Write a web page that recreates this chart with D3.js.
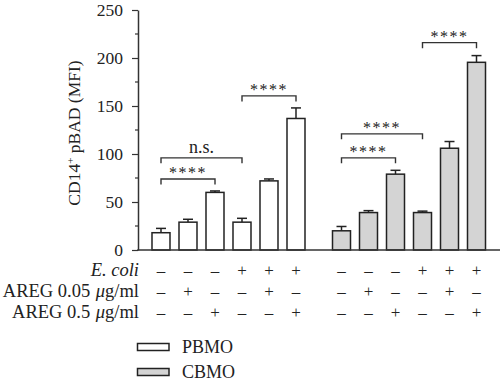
<!DOCTYPE html>
<html>
<head>
<meta charset="utf-8">
<script src="https://cdn.jsdelivr.net/npm/d3@7"></script>
<style>
  html, body { margin: 0; padding: 0; background: #fff; }
  svg { display: block; }
  text { font-family: "Liberation Serif", "Times New Roman", serif; fill: #222; }
</style>
</head>
<body>
<svg id="chart" width="500" height="384"></svg>
<script>
// ---- data ----
const groups = ["PBMO", "CBMO"];
const conditions = ["c1", "c2", "c3", "c4", "c5", "c6"];
const pbmoValues = [18, 29, 60, 29, 72, 137];
const pbmoErrors = [4.5, 3, 1.5, 4, 2, 11];
const cbmoValues = [20, 39, 79, 39, 106, 195.5];
const cbmoErrors = [4.5, 2, 4, 1.5, 7, 7];
const yTicks = [0, 50, 100, 150, 200, 250];
// row labels as pieces: [text, italic]
const rowLabelParts = [
  [["E. coli", true]],
  [["AREG 0.05\u00a0", false], ["μ", true], ["g/ml", false]],
  [["AREG 0.5\u00a0", false], ["μ", true], ["g/ml", false]]
];
const ecoliSigns = ["–", "–", "–", "+", "+", "+"];
const areg005Signs = ["–", "+", "–", "–", "+", "–"];
const areg05Signs = ["–", "–", "+", "–", "–", "+"];
// brackets: group, from index, to index, y value, label
const brackets = [
  ["PBMO", 0, 2, 74, "****"],
  ["PBMO", 0, 3, 96, "n.s."],
  ["PBMO", 3, 5, 160.5, "****"],
  ["CBMO", 0, 2, 96, "****"],
  ["CBMO", 0, 3, 121, "****"],
  ["CBMO", 3, 5, 216, "****"]
];
const fills = { PBMO: "#ffffff", CBMO: "#d4d4d4" };

// ---- layout ----
const svg = d3.select("#chart");
const axisX = 138, y0 = 250, yTop = 10;

const y = d3.scaleLinear().domain([0, 250]).range([y0, yTop]);
const xGroup = d3.scaleBand().domain(groups).range([147.5, 490]).paddingInner(0.1025).paddingOuter(0);
const xCond = d3.scaleBand().domain(conditions).range([0, xGroup.bandwidth()]).paddingInner(1/3).paddingOuter(1/6);
const cx = (g, i) => xGroup(g) + xCond(conditions[i]) + xCond.bandwidth() / 2;

const seriesData = [];
groups.forEach(g => {
  const vals = g === "PBMO" ? pbmoValues : cbmoValues;
  const errs = g === "PBMO" ? pbmoErrors : cbmoErrors;
  vals.forEach((v, i) => seriesData.push({ g, i, v, e: errs[i] }));
});

// error bars (up only)
const eb = svg.append("g").attr("stroke", "#222").attr("stroke-width", 1.5);
seriesData.forEach(d => {
  const x = cx(d.g, d.i);
  eb.append("line").attr("x1", x).attr("x2", x).attr("y1", y(d.v)).attr("y2", y(d.v + d.e));
  eb.append("line").attr("x1", x - 5).attr("x2", x + 5).attr("y1", y(d.v + d.e)).attr("y2", y(d.v + d.e));
});

// bars
svg.append("g").selectAll("rect").data(seriesData).join("rect")
  .attr("x", d => xGroup(d.g) + xCond(conditions[d.i]))
  .attr("y", d => y(d.v))
  .attr("width", xCond.bandwidth())
  .attr("height", d => y(0) - y(d.v))
  .attr("fill", d => fills[d.g])
  .attr("stroke", "#222")
  .attr("stroke-width", 1.5);

// y axis
const yAxis = d3.axisLeft(y).tickValues(yTicks).tickSize(6).tickPadding(9).tickSizeOuter(0);
const ya = svg.append("g").attr("transform", `translate(${axisX},0)`).call(yAxis);
ya.select(".domain").attr("stroke", "#333").attr("stroke-width", 1.5);
ya.selectAll(".tick line").attr("stroke", "#333").attr("stroke-width", 1.2);
ya.selectAll(".tick text").attr("font-family", "Liberation Serif").attr("font-size", 17.5).attr("fill", "#222");
// minor ticks
const minor = d3.range(25, 250, 50);
ya.selectAll(".minor").data(minor).join("line")
  .attr("x1", -3).attr("x2", 0).attr("y1", d => y(d)).attr("y2", d => y(d))
  .attr("stroke", "#333").attr("stroke-width", 1.2);

// x axis line
svg.append("line").attr("x1", axisX - 0.75).attr("x2", 500).attr("y1", y(0)).attr("y2", y(0))
  .attr("stroke", "#333").attr("stroke-width", 1.5);

// y title
svg.append("text")
  .attr("transform", `translate(80,${(y0 + yTop) / 2 + 3}) rotate(-90)`)
  .attr("text-anchor", "middle")
  .attr("font-size", 17.5)
  .html('CD14<tspan baseline-shift="super" font-size="11">+</tspan> pBAD (MFI)');

// brackets
const br = svg.append("g");
brackets.forEach(([g, a, b, v, lab]) => {
  const x1 = cx(g, a), x2 = cx(g, b), yy = y(v);
  br.append("path")
    .attr("d", `M${x1},${yy + 5.5}V${yy}H${x2}V${yy + 5.5}`)
    .attr("fill", "none").attr("stroke", "#333").attr("stroke-width", 1.4);
  br.append("text")
    .attr("x", (x1 + x2) / 2).attr("y", lab === "n.s." ? yy - 5 : yy - 1)
    .attr("text-anchor", "middle")
    .attr("font-size", lab === "n.s." ? 18 : 16)
    .attr("letter-spacing", lab === "n.s." ? 0 : 1.5)
    .attr("fill", "#444")
    .text(lab);
});

// condition rows
const rows = [ecoliSigns, areg005Signs, areg05Signs];
const rowY = [276, 297, 318];
rows.forEach((signs, r) => {
  // row label, laid out right to left as separate pieces
  let right = axisX + 1;
  rowLabelParts[r].slice().reverse().forEach(([txt, it]) => {
    const t = svg.append("text").attr("x", right).attr("y", rowY[r])
      .attr("text-anchor", "end").attr("font-size", 18.5)
      .attr("font-style", it ? "italic" : "normal").text(txt);
    right -= t.node().getBBox().width;
  });
  groups.forEach(g => {
    signs.forEach((s, i) => {
      svg.append("text").attr("x", cx(g, i)).attr("y", rowY[r])
        .attr("text-anchor", "middle").attr("font-size", 17).text(s);
    });
  });
});

// legend
const leg = svg.append("g");
groups.forEach((g, i) => {
  const ly = 343.5 + i * 25;
  leg.append("rect").attr("x", 137.5).attr("y", ly).attr("width", 31.5).attr("height", 7)
    .attr("fill", fills[g]).attr("stroke", "#222").attr("stroke-width", 1.5);
  leg.append("text").attr("x", 182).attr("y", ly + 9.5).attr("font-size", 18).text(g);
});
</script>
</body>
</html>
